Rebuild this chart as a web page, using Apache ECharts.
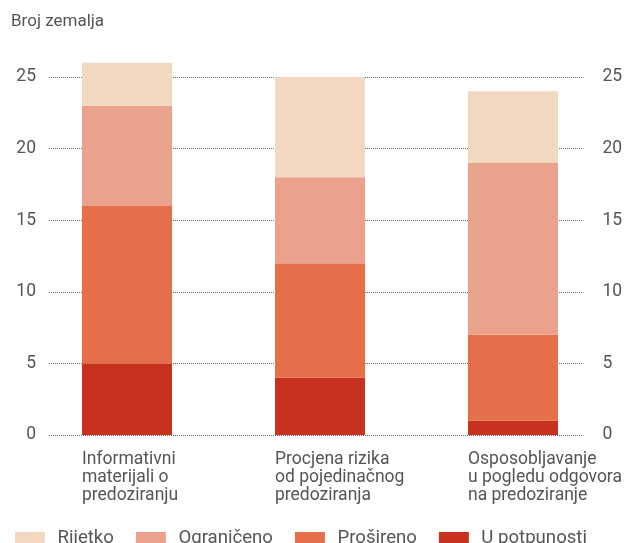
<!DOCTYPE html>
<html><head><meta charset="utf-8">
<script src="https://cdn.jsdelivr.net/npm/echarts@6/dist/echarts.min.js"></script>
<style>html,body{margin:0;padding:0;background:#fff}#c{width:626px;height:543px}</style>
</head><body><div id="c"></div>
<script>
const categories = ['Informativni\nmaterijali o\npredoziranju', 'Procjena rizika\nod pojedinačnog\npredoziranja', 'Osposobljavanje\nu pogledu odgovora\nna predoziranje'];
const seriesNames = ['Rijetko', 'Ograničeno', 'Prošireno', 'U potpunosti'];
const uPotpunosti = [5, 4, 1];
const prosireno = [11, 8, 6];
const ograniceno = [7, 6, 12];
const rijetko = [3, 7, 5];
const yTicks = [0, 5, 10, 15, 20, 25];
const colors = {'Rijetko': '#F2D7C1', 'Ograničeno': '#EAA28D', 'Prošireno': '#E46F4A', 'U potpunosti': '#C9311F'};

const FONT = 'Roboto';
const TXT = '#555';
const chart = echarts.init(document.getElementById('c'), null, {renderer: 'canvas'});
const stackOrder = [['U potpunosti', uPotpunosti], ['Prošireno', prosireno], ['Ograničeno', ograniceno], ['Rijetko', rijetko]];
const axisCommon = {
  type: 'value', min: yTicks[0], max: yTicks[yTicks.length - 1], interval: 5,
  axisLine: {show: false}, axisTick: {show: false},
  splitLine: {show: false}
};
chart.setOption({
  animation: false,
  textStyle: {fontFamily: FONT},
  title: {text: 'Broj zemalja', left: 6, top: 8, textStyle: {fontFamily: FONT, fontSize: 17, fontWeight: 'normal', color: TXT}},
  legend: {
    data: seriesNames, left: 10, top: 524, itemWidth: 30, itemHeight: 13, itemGap: 22,
    icon: 'rect',
    textStyle: {fontFamily: FONT, fontSize: 18.6, color: TXT, padding: [0, 0, 0, 7.5]}
  },
  grid: [
    {left: 30.5, right: 16.5, top: 62.7, bottom: 108},
    {left: 49, right: 42.5, top: 77, bottom: 108}
  ],
  xAxis: [
    {type: 'category', gridIndex: 0, data: categories,
     axisLine: {show: false}, axisTick: {show: false},
     axisLabel: {interval: 0, hideOverlap: false, align: 'left', padding: [0, 0, 0, -45], margin: 16, fontFamily: FONT, fontSize: 17.5, lineHeight: 18, color: TXT}},
    {type: 'category', gridIndex: 1, data: ['a'], show: false}
  ],
  yAxis: [
    Object.assign({}, axisCommon, {gridIndex: 0, max: 26, show: false}),
    Object.assign({}, axisCommon, {gridIndex: 1, position: 'left',
      axisLabel: {margin: 13, fontFamily: FONT, fontSize: 17.5, color: TXT}},
      {splitLine: {show: true, lineStyle: {type: [1, 1], color: '#666', width: 1}}}),
    Object.assign({}, axisCommon, {gridIndex: 1, position: 'right',
      axisLabel: {margin: 19, fontFamily: FONT, fontSize: 17.5, color: TXT}})
  ],
  series: stackOrder.map(([name, vals]) => ({
    name, type: 'bar', stack: 'total', xAxisIndex: 0, yAxisIndex: 0,
    data: vals, barWidth: 90, itemStyle: {color: colors[name]}, z: 3
  })).concat([{type: 'bar', xAxisIndex: 1, yAxisIndex: 1, data: [], silent: true},
              {type: 'bar', xAxisIndex: 1, yAxisIndex: 2, data: [], silent: true}])
});
</script></body></html>
